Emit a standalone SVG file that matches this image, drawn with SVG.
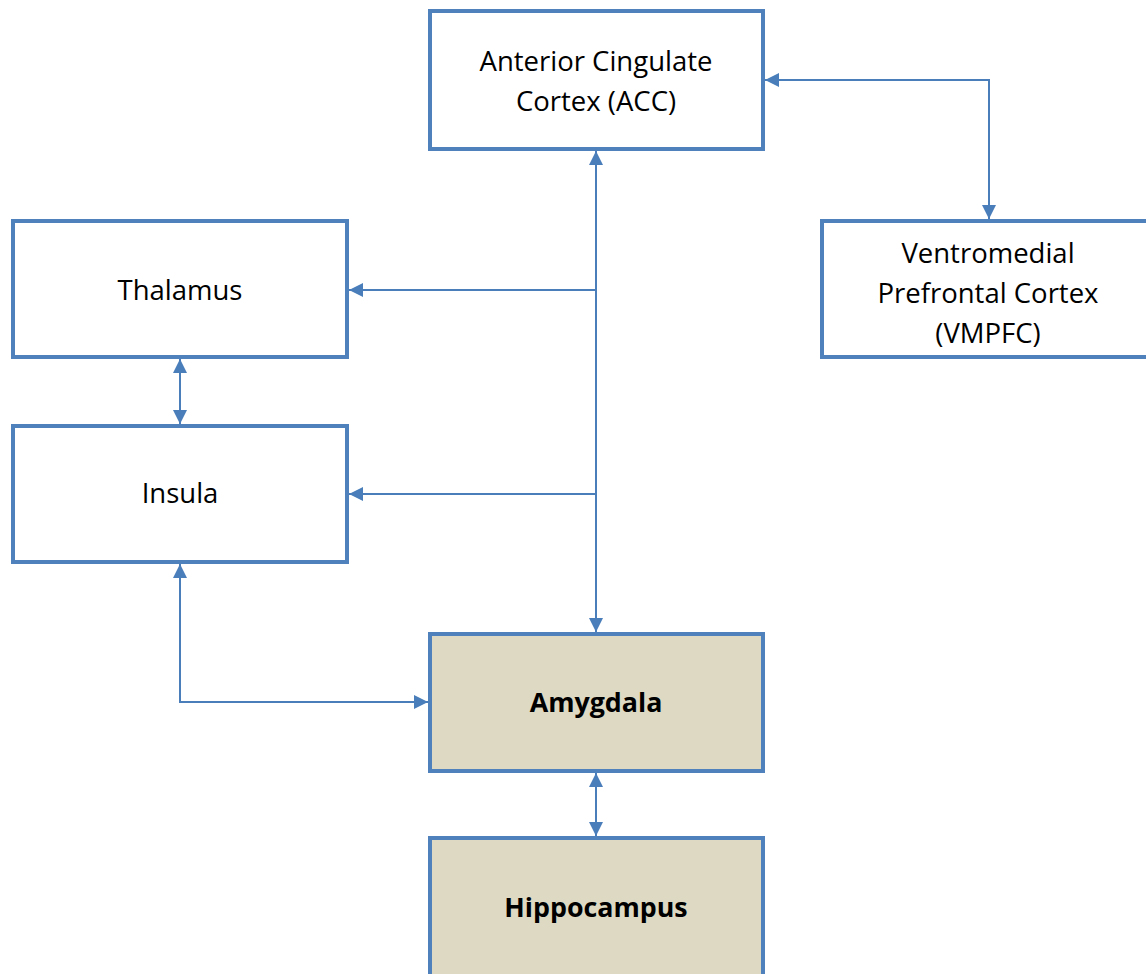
<svg xmlns="http://www.w3.org/2000/svg" width="1146" height="974" viewBox="0 0 1146 974">
<style>
.box{fill:#fff;stroke:#4F81BD;stroke-width:4}
.hl{fill:#DDD9C3}
.t{font-family:"Open Sans","Liberation Sans",sans-serif;font-size:27.5px;fill:#000;text-anchor:middle}
.b{font-weight:bold;font-size:26.8px}
.c{fill:none;stroke:#4A7EBB;stroke-width:2}
</style>
<defs>
<marker id="ah" viewBox="0 0 14 14" refX="14" refY="7" markerWidth="14" markerHeight="14" markerUnits="userSpaceOnUse" orient="auto-start-reverse">
<path d="M0,0 L14,7 L0,14 Z" fill="#4A7EBB"/>
</marker>
</defs>
<g id="connectors">
<path class="c" d="M596,151 V632" marker-start="url(#ah)" marker-end="url(#ah)"/>
<path class="c" d="M596,290 H349" marker-end="url(#ah)"/>
<path class="c" d="M596,494 H349" marker-end="url(#ah)"/>
<path class="c" d="M765,80 H989 V219" marker-start="url(#ah)" marker-end="url(#ah)"/>
<path class="c" d="M180,359 V424" marker-start="url(#ah)" marker-end="url(#ah)"/>
<path class="c" d="M180,564 V702 H428" marker-start="url(#ah)" marker-end="url(#ah)"/>
<path class="c" d="M596,773 V836" marker-start="url(#ah)" marker-end="url(#ah)"/>
</g>
<g id="acc"><rect class="box" x="430" y="11" width="333" height="138"/>
<text class="t" x="596" y="71">Anterior Cingulate</text><text class="t" x="596" y="111">Cortex (ACC)</text></g>
<g id="thalamus"><rect class="box" x="13" y="221" width="334" height="136"/>
<text class="t" x="180" y="300">Thalamus</text></g>
<g id="insula"><rect class="box" x="13" y="426" width="334" height="136"/>
<text class="t" x="180" y="503">Insula</text></g>
<g id="vmpfc"><rect class="box" x="822" y="221" width="333" height="136"/>
<text class="t" x="988" y="263">Ventromedial</text><text class="t" x="988" y="303">Prefrontal Cortex</text><text class="t" x="988" y="343">(VMPFC)</text></g>
<g id="amygdala"><rect class="box hl" x="430" y="634" width="333" height="137"/>
<text class="t b" x="596" y="712">Amygdala</text></g>
<g id="hippocampus"><rect class="box hl" x="430" y="838" width="333" height="140"/>
<text class="t b" x="596" y="917">Hippocampus</text></g>
</svg>
